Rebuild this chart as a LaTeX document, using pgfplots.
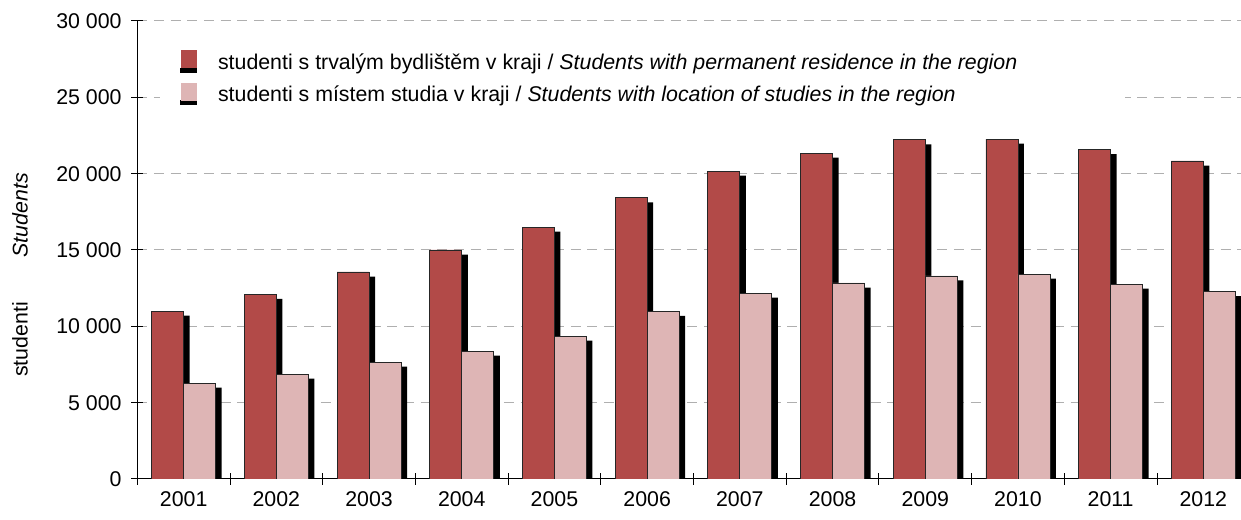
\documentclass[border=0pt]{standalone}
\usepackage{pgfplots}
\usepackage{pgfplotstable}
\pgfplotsset{compat=1.18}
\usepackage{fontspec}
\setmainfont{Liberation Sans}
\definecolor{cRed}{RGB}{178,74,72}
\definecolor{cPink}{RGB}{222,181,181}
\definecolor{cGrid}{RGB}{175,175,175}

\pgfplotstableread{
x red pink
0 11000 6280
1 12100 6870
2 13560 7650
3 15000 8380
4 16500 9360
5 18420 10980
6 20170 12180
7 21350 12840
8 22220 13300
9 22270 13420
10 21570 12770
11 20830 12280
}\datatable

\begin{document}
\begin{tikzpicture}[font=\fontsize{16}{19}\selectfont]
\begin{axis}[
  at={(102.975pt,30.75pt)}, anchor=south west,
  scale only axis, width=834.3pt, height=343.5pt,
  xmin=-0.5, xmax=11.5, ymin=0, ymax=30000,
  scaled y ticks=false,
  ybar, bar width=24pt,
  axis x line*=bottom, axis y line*=left,
  axis line style={black, line width=0.75pt},
  xtick={-0.5,0.5,...,11.5}, xticklabels={},
  extra x ticks={0,1,2,3,4,5,6,7,8,9,10,11},
  extra x tick labels={2001,2002,2003,2004,2005,2006,2007,2008,2009,2010,2011,2012},
  extra x tick style={major tick length=0pt, grid=none},
  ytick={0,5000,10000,15000,20000,25000,30000},
  yticklabels={0,5 000,10 000,15 000,20 000,25 000,30 000},
  tick align=center, major tick length=9pt,
  tick style={black, line width=0.75pt},
  ymajorgrids,
  grid style={cGrid, dash pattern=on 7.5pt off 5pt, line width=0.75pt},
  yticklabel style={xshift=-3.75pt},
  xticklabel style={yshift=-6pt},
  legend style={at={(rel axis cs:0.0204,0.948)}, anchor=north west,
    draw=none, fill=white, inner xsep=15pt, inner ysep=4pt,
    row sep=7.5pt,
    nodes={inner xsep=0pt, inner ysep=1pt},
    /tikz/every odd column/.append style={column sep=15.75pt}},
  legend cell align=left,
  legend image code/.code={
    \fill[black] (0pt,-7.5pt) rectangle (12pt,-4.5pt);
    \path[#1, draw=none] (0pt,-4.5pt) rectangle (12pt,9pt);
  },
]
% shadows
\addplot[fill=black, draw=none, bar shift=-7.5pt, yshift=-3.4pt, forget plot] table[x=x, y=red] {\datatable};
\addplot[fill=black, draw=none, bar shift=16.5pt, yshift=-3.4pt, forget plot] table[x=x, y=pink] {\datatable};
% bars
\addplot[fill=cRed, draw=black!85, line width=0.6pt, bar shift=-12pt] table[x=x, y=red] {\datatable};
\addplot[fill=cPink, draw=black!85, line width=0.6pt, bar shift=12pt] table[x=x, y=pink] {\datatable};
\legend{studenti s trvalým bydlištěm v kraji / \textit{Students with permanent residence in the region}\hspace*{66pt},
        studenti s místem studia v kraji / \textit{Students with location of studies in the region}}
\end{axis}
\node[rotate=90] at (15pt,183.75pt) {studenti\hspace{33.75pt}\textit{Students}};
\pgfresetboundingbox
\useasboundingbox (0,0) rectangle (930.75pt,390pt);
\end{tikzpicture}
\end{document}
